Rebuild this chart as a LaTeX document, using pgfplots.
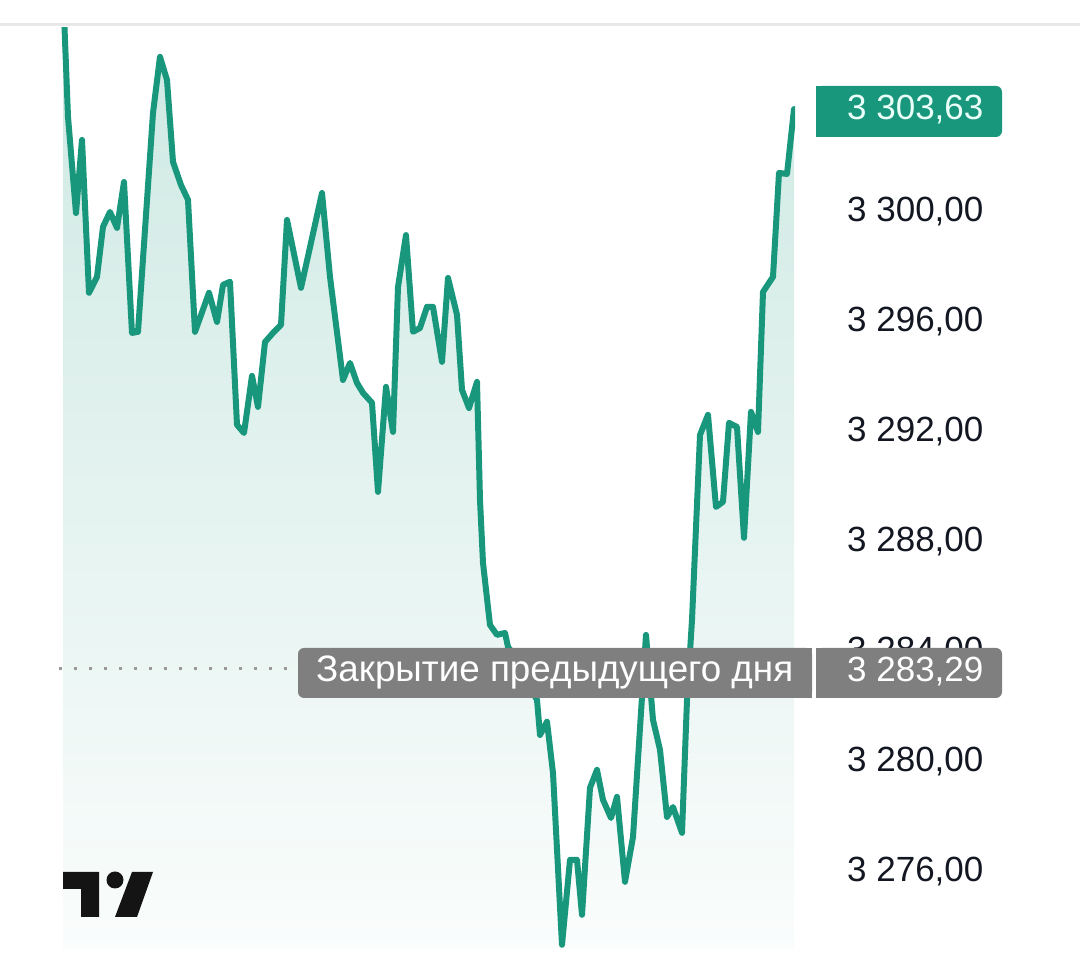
\documentclass[border=0pt]{standalone}
\usepackage{fontspec}
\setmainfont{Liberation Sans}
\usepackage{pgfplots}
\usepackage{pgfplotstable}
\pgfplotsset{compat=1.18}
\definecolor{tvgreen}{HTML}{18977D}
\definecolor{tvfill}{HTML}{CCE8E2}
\definecolor{tvgray}{HTML}{7F7F7F}
\definecolor{tvtext}{HTML}{131722}
\definecolor{tvrule}{HTML}{E8E8E8}
\definecolor{tvdots}{HTML}{9A9A9A}
\definecolor{tvmint}{HTML}{E9FFF8}

% t = minutes-ish index, price in points
\pgfplotstableread{
t price
0 3308.00
5 3303.35
13 3299.85
19 3302.51
26 3296.95
34 3297.53
40 3299.35
47 3299.89
54 3299.31
61 3300.98
69 3295.49
75 3295.53
90 3303.49
97 3305.53
104 3304.69
110 3301.71
118 3300.87
125 3300.33
132 3295.53
146 3296.95
154 3295.89
160 3297.24
167 3297.35
174 3292.15
181 3291.85
189 3293.93
195 3292.80
202 3295.16
210 3295.49
218 3295.78
224 3299.60
238 3297.13
259 3300.58
267 3297.53
280 3293.78
287 3294.40
294 3293.67
300 3293.31
309 3292.95
315 3289.71
323 3293.53
330 3291.89
335 3297.16
343 3299.05
350 3295.53
357 3295.67
364 3296.44
370 3296.44
379 3294.44
385 3297.49
394 3296.15
399 3293.42
406 3292.76
414 3293.71
417 3289.42
420 3287.13
427 3284.87
434 3284.51
442 3284.58
445 3284.07
455 3283.60
465 3282.69
474 3282.15
477 3280.87
484 3281.35
490 3279.49
499 3273.24
507 3276.33
514 3276.33
519 3274.33
527 3278.95
534 3279.60
540 3278.51
548 3277.85
554 3278.62
562 3275.53
570 3277.16
583 3284.51
590 3281.42
597 3280.33
604 3277.89
610 3278.25
619 3277.31
624 3282.15
629 3285.05
637 3291.78
645 3292.51
653 3289.16
660 3289.35
666 3292.22
674 3292.07
681 3288.04
688 3292.62
695 3291.89
700 3296.98
710 3297.53
716 3301.31
724 3301.27
731 3303.63
}\prices

\begin{document}
\begin{tikzpicture}[x=1pt,y=1pt]
\path[use as bounding box] (0,0) rectangle (1080,973);
\fill[tvrule] (0,946.5) rectangle (1080,949.5);
\begin{axis}[
  at={(58pt,23pt)}, anchor=south west,
  scale only axis, width=737pt, height=922pt,
  xmin=-5, xmax=732, ymin=3273.05, ymax=3306.58,
  axis line style={draw=none},
  xtick=\empty,
  ytick={3276,3280,3284,3288,3292,3296,3300,3304},
  yticklabels={{3 276,00},{3 280,00},{3 284,00},{3 288,00},{3 292,00},{3 296,00},{3 300,00},{3 304,00}},
  yticklabel pos=right,
  major tick length=0pt,
  yticklabel style={font=\fontsize{35}{42}\selectfont, text=tvtext, anchor=base west, inner sep=0pt, xshift=52pt, yshift=-12.5pt},
]
\addplot[draw=none, top color=tvfill, bottom color=white!90!tvfill, forget plot] table[x=t, y=price] {\prices} \closedcycle;
\addplot[tvdots, line width=3pt, dash pattern=on 3pt off 12pt, forget plot] coordinates {(-4,3283.29) (732,3283.29)};
\addplot[tvgreen, line width=6pt, line join=round, line cap=round] table[x=t, y=price] {\prices};
\end{axis}
% last price tag
\fill[tvgreen, rounded corners=6pt] (816,887) rectangle (1002,836);
\fill[tvgreen] (816,887) rectangle (830,836);
\node[anchor=base west, inner sep=0pt, text=tvmint, font=\fontsize{35}{42}\selectfont] at (847,853) {3 303,63};
% previous close tags
\fill[tvgray, rounded corners=6pt] (298,325) rectangle (812,275);
\fill[tvgray] (800,325) rectangle (812,275);
\node[anchor=base west, inner sep=0pt, text=white, font=\fontsize{36.8}{44}\selectfont] at (316,291) {Закрытие предыдущего дня};
\fill[tvgray, rounded corners=6pt] (816,325) rectangle (1002,275);
\fill[tvgray] (816,325) rectangle (830,275);
\node[anchor=base west, inner sep=0pt, text=white, font=\fontsize{35}{42}\selectfont] at (847,291) {3 283,29};
% logo
\fill[black!92] (63,101) -- (99,101) -- (99,56) -- (81,56) -- (81,84) -- (63,84) -- cycle;
\fill[black!92] (115,93) circle (8.5);
\fill[black!92] (132,101) -- (153,101) -- (137,56) -- (115,56) -- cycle;
\end{tikzpicture}
\end{document}
